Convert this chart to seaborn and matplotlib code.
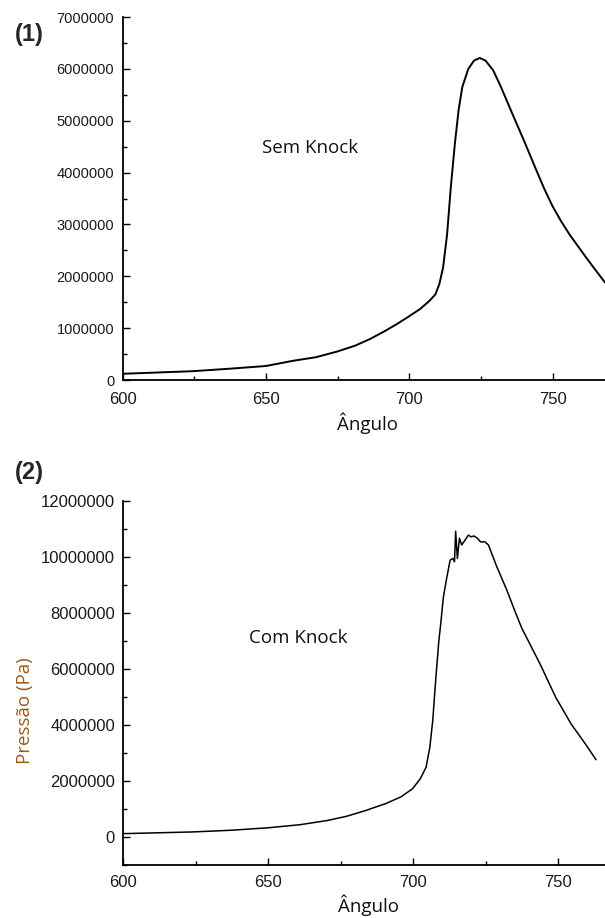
import numpy as np
import pandas as pd
import matplotlib
matplotlib.use("Agg")
import matplotlib.pyplot as plt
import seaborn as sns
from matplotlib.ticker import MultipleLocator, FixedLocator, FixedFormatter

# ---- data ----
angle_sem = [600, 624.5, 637.9, 650, 659.4, 667.5, 674.9, 681, 686.3, 691.7, 695.7,
             699.7, 703.8, 707.1, 709.1, 710.5, 711.8, 713.2, 714.5, 715.9, 717.2,
             718.5, 720.6, 722.6, 724.6, 726.6, 729.3, 732, 736, 740, 744, 747,
             750, 753, 756, 759, 762, 765, 768.3]
press_sem = [0.12e6, 0.17e6, 0.22e6, 0.27e6, 0.37e6, 0.44e6, 0.55e6, 0.66e6, 0.79e6,
             0.95e6, 1.08e6, 1.22e6, 1.37e6, 1.53e6, 1.65e6, 1.85e6, 2.17e6, 2.81e6,
             3.72e6, 4.55e6, 5.2e6, 5.65e6, 6.0e6, 6.16e6, 6.21e6, 6.16e6, 5.97e6,
             5.65e6, 5.13e6, 4.62e6, 4.09e6, 3.70e6, 3.35e6, 3.06e6, 2.80e6, 2.57e6,
             2.34e6, 2.12e6, 1.88e6]

angle_com = [600, 623.7, 637, 650, 661, 670.4, 677, 683.7, 690.4, 695.7, 699.7, 702.4,
             704.4, 705.7, 706.7, 707.7, 708.8, 709.3, 710.4, 711.5, 712.7, 713.6,
             714.2, 714.6, 715.2, 715.9, 716.7, 717.8, 719.0, 719.9, 720.9, 722.1,
             723.2, 724.7, 725.9, 728.8, 732.2, 735.1, 737.4, 743.7, 749.1, 754.4,
             759.7, 763.0]
press_com = [0.12e6, 0.18e6, 0.24e6, 0.33e6, 0.44e6, 0.59e6, 0.74e6, 0.95e6, 1.19e6,
             1.43e6, 1.72e6, 2.08e6, 2.49e6, 3.2e6, 4.16e6, 5.58e6, 7.0e6, 7.46e6,
             8.59e6, 9.24e6, 9.89e6, 9.95e6, 9.83e6, 10.92e6, 9.95e6, 10.67e6,
             10.43e6, 10.6e6, 10.78e6, 10.72e6, 10.75e6, 10.67e6, 10.54e6, 10.54e6,
             10.43e6, 9.65e6, 8.83e6, 8.05e6, 7.46e6, 6.18e6, 4.99e6, 4.04e6, 3.27e6,
             2.76e6]

x_ticks = [600, 650, 700, 750]
y_ticks_top = [0, 1000000, 2000000, 3000000, 4000000, 5000000, 6000000, 7000000]
y_ticks_bot = [0, 2000000, 4000000, 6000000, 8000000, 10000000, 12000000]

df_sem = pd.DataFrame({"angle": angle_sem, "p": press_sem})
df_com = pd.DataFrame({"angle": angle_com, "p": press_com})

sns.set_style("ticks")
plt.rcParams["font.family"] = ["Liberation Sans", "DejaVu Sans"]

W, H = 605, 918
fig = plt.figure(figsize=(W / 100, H / 100), dpi=100)

def frac(left, top, right, bottom):
    return [left / W, 1 - bottom / H, (right - left) / W, (bottom - top) / H]

ax1 = fig.add_axes(frac(122.7, 17, 605, 380))
ax2 = fig.add_axes(frac(123.3, 501, 605, 865))

sns.lineplot(data=df_sem, x="angle", y="p", ax=ax1, color="black", linewidth=1.4,
             sort=False, estimator=None)
sns.lineplot(data=df_com, x="angle", y="p", ax=ax2, color="black", linewidth=1.1,
             sort=False, estimator=None)

ax1.set_xlim(600, 768.3)
ax1.set_ylim(0, 7e6)
ax2.set_xlim(600, 766.1)
ax2.set_ylim(-1e6, 12e6)

tick_col = "#1a1a1a"
for ax, yt, ysize, xpad in [(ax1, y_ticks_top, 10.5, 9), (ax2, y_ticks_bot, 12, 7)]:
    sns.despine(ax=ax)
    for s in ["left", "bottom"]:
        ax.spines[s].set_linewidth(1.3)
        ax.spines[s].set_color("black")
    ax.xaxis.set_major_locator(FixedLocator(x_ticks))
    ax.xaxis.set_major_formatter(FixedFormatter([str(v) for v in x_ticks]))
    ax.xaxis.set_minor_locator(MultipleLocator(25))
    ax.yaxis.set_major_locator(FixedLocator(yt))
    ax.yaxis.set_major_formatter(FixedFormatter([str(v) for v in yt]))
    ax.tick_params(axis="both", which="major", direction="in", length=5, width=1.0,
                   color="black")
    ax.tick_params(axis="both", which="minor", direction="in", length=3, width=1.0,
                   color="black")
    ax.tick_params(axis="x", labelsize=12, pad=xpad, labelcolor=tick_col)
    ax.tick_params(axis="y", labelsize=ysize, pad=6, labelcolor=tick_col)
    ax.set_xlabel("")
    ax.set_ylabel("")

ax1.yaxis.set_minor_locator(MultipleLocator(500000))
ax2.yaxis.set_minor_locator(MultipleLocator(1000000))

txt_font = ["Open Sans", "DejaVu Sans"]

# panel letters
fig.text(29.5 / W, 1 - 35 / H, "(1)", fontsize=17, fontweight="bold",
         ha="center", va="center", family=["Liberation Sans", "DejaVu Sans"])
fig.text(29.5 / W, 1 - 473 / H, "(2)", fontsize=17, fontweight="bold",
         ha="center", va="center", family=["Liberation Sans", "DejaVu Sans"])

# annotations
fig.text(310 / W, 1 - 148 / H, "Sem Knock", fontsize=13.5, ha="center", va="center",
         family=txt_font, color="#111111")
fig.text(298 / W, 1 - 638 / H, "Com Knock", fontsize=13.5, ha="center", va="center",
         family=txt_font, color="#111111")

# axis labels
fig.text(368 / W, 1 - 430 / H, "Ângulo", fontsize=13.5, ha="center", va="baseline",
         family=txt_font, color="#111111")
fig.text(369 / W, 1 - 912 / H, "Ângulo", fontsize=13.5, ha="center", va="baseline",
         family=txt_font, color="#111111")
fig.text(25 / W, 1 - 711 / H, "Pressão (Pa)", fontsize=13.5, ha="center", va="center",
         rotation=90, family=txt_font, color="#9a5a1c")

fig.savefig("out.png", dpi=100)
